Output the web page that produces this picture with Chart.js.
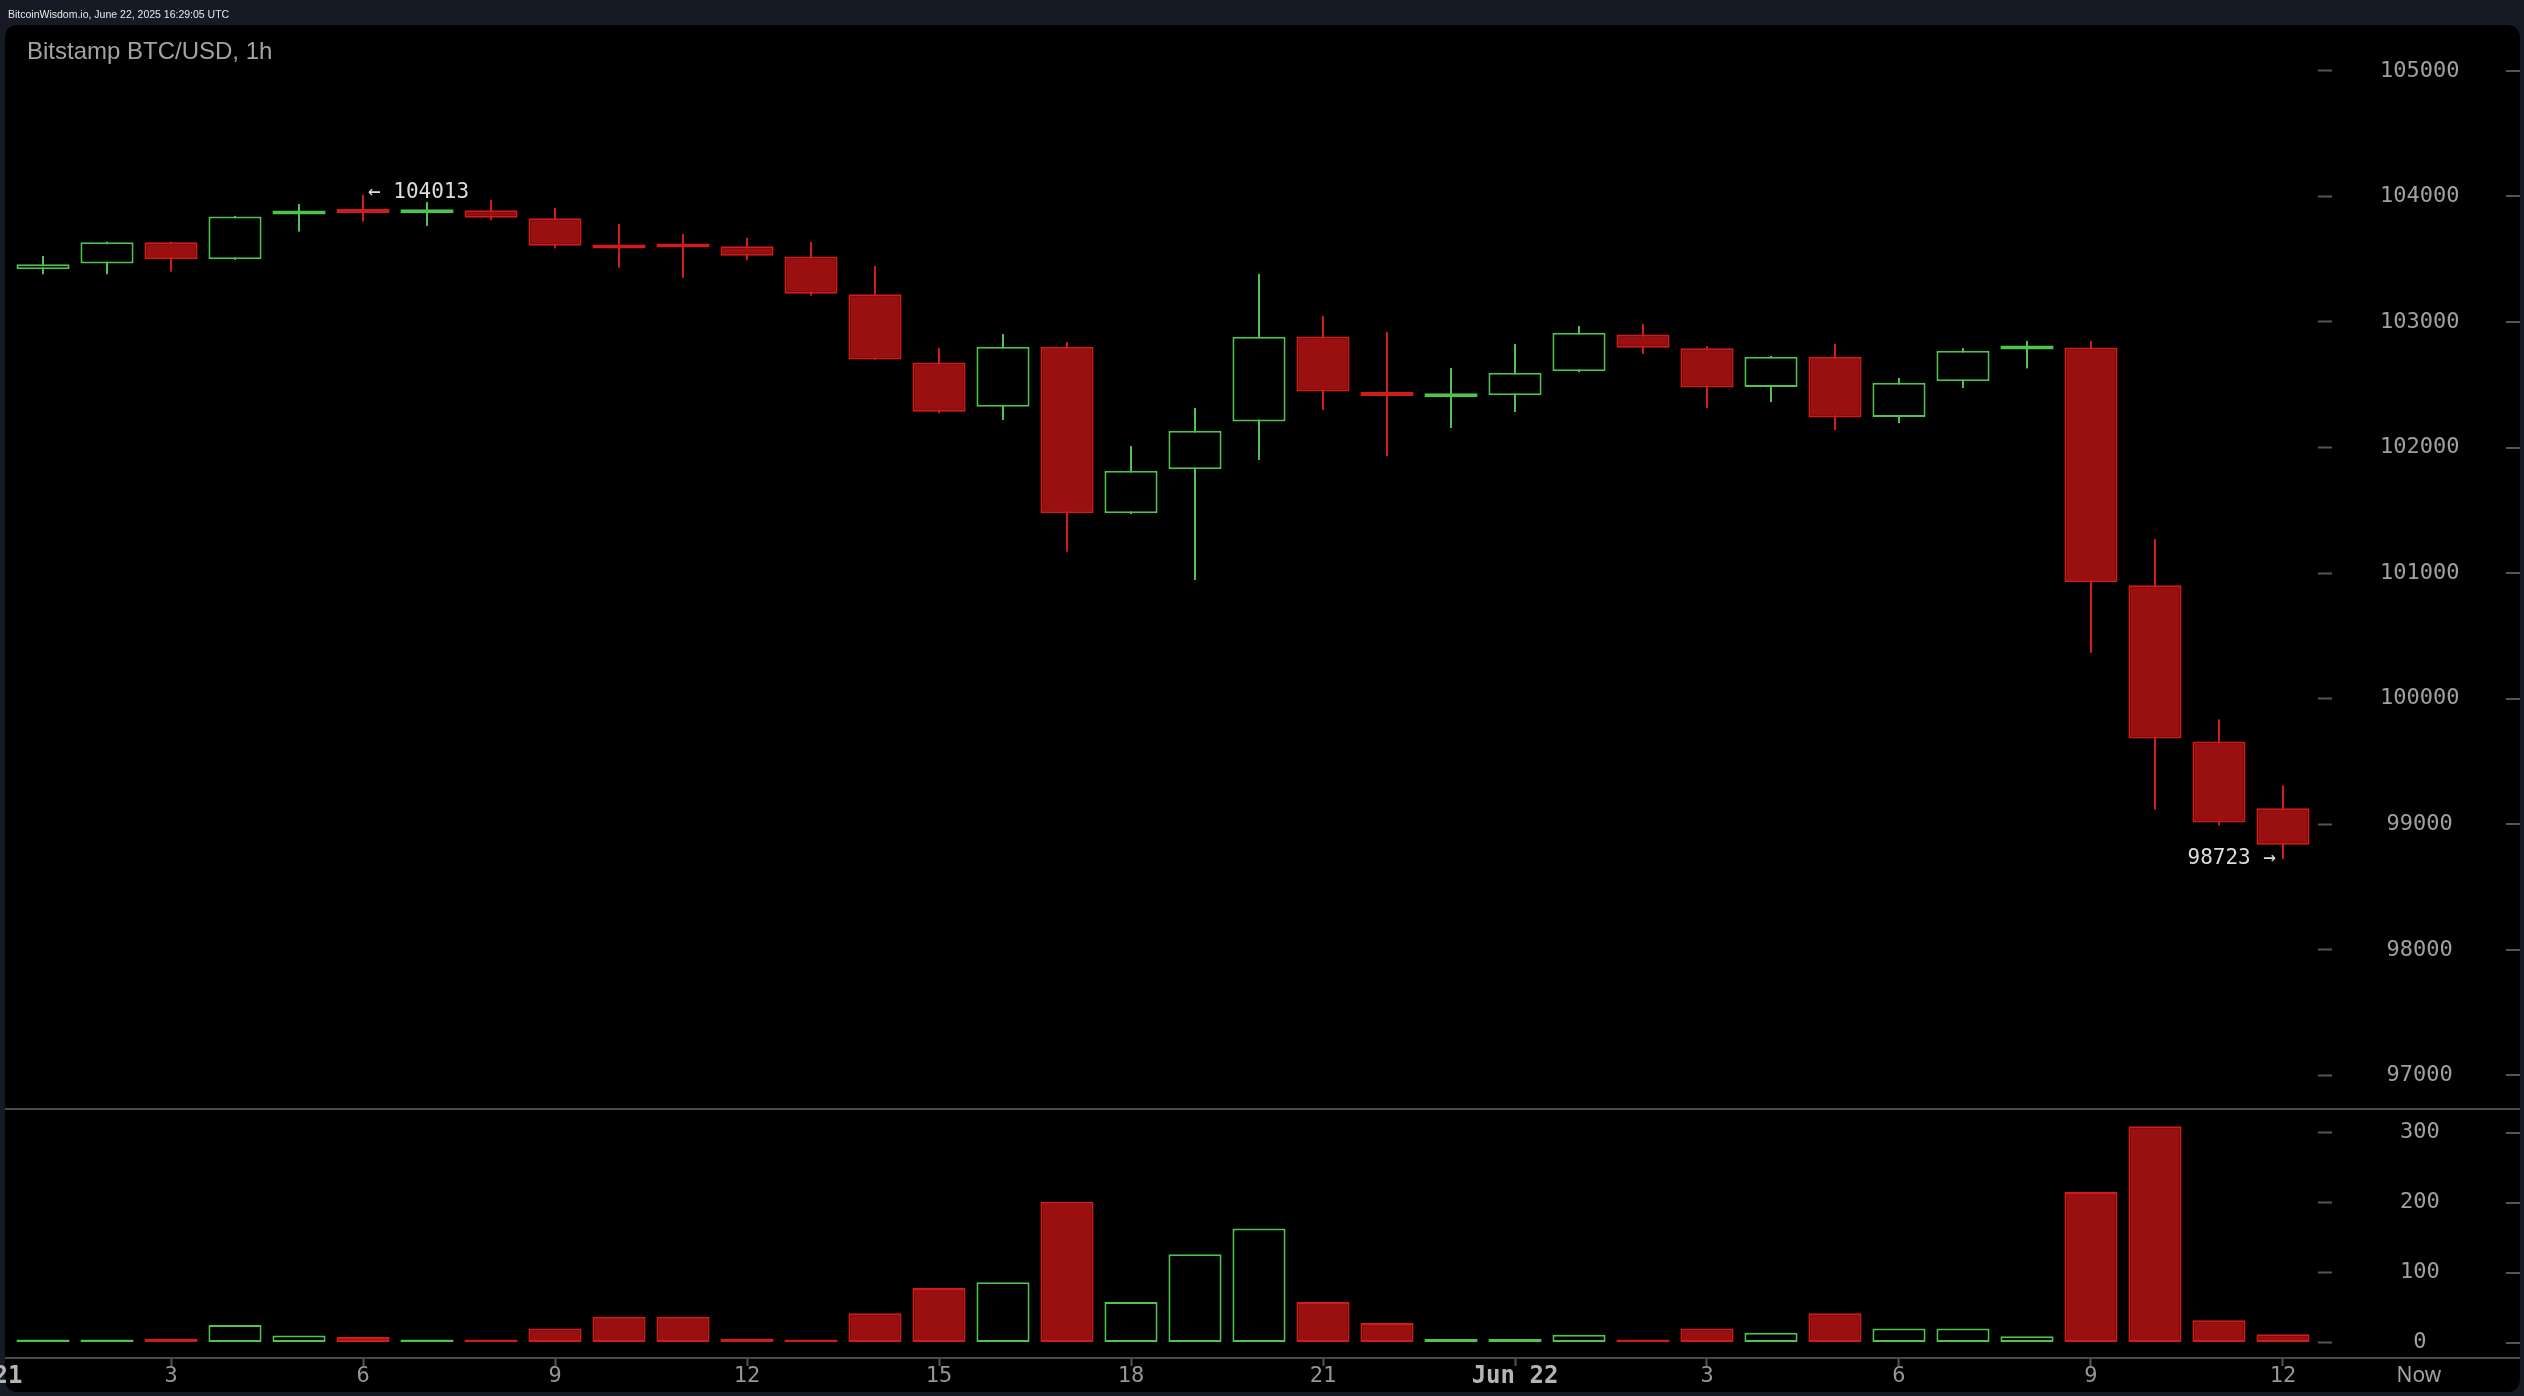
<!DOCTYPE html>
<html>
<head>
<meta charset="utf-8">
<title>Bitstamp BTC/USD, 1h</title>
<script src="https://cdn.jsdelivr.net/npm/chart.js@4.4.1/dist/chart.umd.min.js"></script>
<style>
    html, body { margin: 0; padding: 0; background: #151a24; }
    #wrap { position: relative; width: 2524px; height: 1396px; }
    #myChart { display: block; }
    #header { position: absolute; left: 8px; top: 8px; font: 10.5px "Liberation Sans", Arial, sans-serif; color: #e8e8e8; }
    #title { position: absolute; left: 27px; top: 39px; font: 24px "Liberation Sans", Arial, sans-serif; color: #a3a3a3; line-height: 1; }
</style>
</head>
<body>
<div id="wrap">
    <canvas id="myChart" width="2524" height="1396"></canvas>
    <div id="header">BitcoinWisdom.io, June 22, 2025 16:29:05 UTC</div>
    <div id="title">Bitstamp BTC/USD, 1h</div>
</div>
<script>
// --- Data (hours relative to Jun 22 00:00) ---
const hours = [-23, -22, -21, -20, -19, -18, -17, -16, -15, -14, -13, -12, -11, -10, -9, -8, -7, -6,
               -5, -4, -3, -2, -1, 0, 1, 2, 3, 4, 5, 6, 7, 8, 9, 10, 11, 12];
const opens = [103420, 103465, 103635, 103500, 103855, 103875, 103865, 103890, 103825, 103602, 103600, 103602,
               103522, 103220, 102678, 102325, 102803, 101476, 101826, 102208, 102885, 102430, 102400, 102416,
               102607, 102901, 102790, 102482, 102723, 102243, 102527, 102780, 102797, 100903, 99658, 99127];
const highs = [103525, 103640, 103640, 103845, 103940, 104013, 103955, 103970, 103907, 103780, 103700, 103671,
               103637, 103446, 102792, 102904, 102840, 102012, 102315, 103382, 103047, 102920, 102633, 102824,
               102968, 102984, 102808, 102730, 102824, 102554, 102792, 102849, 102849, 101272, 99835, 99310];
const lows = [103380, 103380, 103400, 103495, 103720, 103800, 103765, 103812, 103586, 103432, 103352, 103493,
              103209, 102700, 102272, 102219, 101170, 101470, 100945, 101901, 102299, 101932, 102155, 102283,
              102600, 102745, 102315, 102362, 102139, 102193, 102474, 102630, 100363, 99118, 98990, 98723];
const closes = [103460, 103635, 103500, 103840, 103870, 103868, 103888, 103830, 103607, 103585, 103594, 103528,
                103225, 102702, 102285, 102803, 101476, 101816, 102134, 102883, 102447, 102410, 102405, 102596,
                102915, 102795, 102479, 102723, 102240, 102516, 102771, 102795, 100927, 99682, 99014, 98837];
const volumes = [2, 2, 5, 25, 10, 8, 2, 2, 20, 37, 37, 5, 2, 42, 78, 86, 201, 58, 126, 163, 58, 28,
                 5, 5, 11, 2, 20, 14, 42, 20, 20, 9, 215, 309, 32, 12];

const tickHours = [-24, -21, -18, -15, -12, -9, -6, -3, 0, 3, 6, 9, 12];
const tickLabels = ['Jun 21', '3', '6', '9', '12', '15', '18', '21', 'Jun 22', '3', '6', '9', '12'];
const priceTicks = [97000, 98000, 99000, 100000, 101000, 102000, 103000, 104000, 105000];
const volumeTicks = [0, 100, 200, 300];

// --- Colours ---
const GREEN = '#4fc24f';
const RED_LINE = '#d21c1c';
const RED_FILL = '#9a0f10';
const AXIS_TEXT = '#a0a0a0';
const MONO = 'DejaVu Sans Mono';

const isUp = hours.map((h, i) => closes[i] >= opens[i]);
const lineColors = isUp.map(u => u ? GREEN : RED_LINE);
const fillColors = isUp.map(u => u ? '#000000' : RED_FILL);

const wickData = hours.map((h, i) => ({ x: h, y: [lows[i], highs[i]] }));
const bodyData = hours.map((h, i) => ({ x: h, y: [Math.min(opens[i], closes[i]), Math.max(opens[i], closes[i])] }));
const volumeData = hours.map((h, i) => ({ x: h, y: volumes[i] }));

// no extra room for edge labels
function noEdgePadding(scale) {
    scale.paddingLeft = 0;
    scale.paddingRight = 0;
    scale.paddingTop = 0;
    scale.paddingBottom = 0;
}

// panel, separators, right-hand dashes and price notes
const panelPlugin = {
    id: 'panelDecor',
    beforeDraw(chart) {
        const ctx = chart.ctx;
        ctx.save();
        ctx.fillStyle = '#000000';
        ctx.beginPath();
        ctx.roundRect(5, 25, 2515, 1367, 12);
        ctx.fill();
        ctx.restore();
    },
    afterDraw(chart) {
        const ctx = chart.ctx;
        const { x, y, yVol } = chart.scales;
        ctx.save();

        // separators across the whole panel
        ctx.strokeStyle = '#4a4a4a';
        ctx.lineWidth = 2;
        [yVol.top, x.top].forEach(py => {
            ctx.beginPath();
            ctx.moveTo(5, py);
            ctx.lineTo(2520, py);
            ctx.stroke();
        });

        // small dashes on the right edge
        ctx.strokeStyle = '#555555';
        [[y, priceTicks], [yVol, volumeTicks]].forEach(([scale, vals]) => {
            vals.forEach(v => {
                const py = Math.round(scale.getPixelForValue(v));
                ctx.beginPath();
                ctx.moveTo(scale.right - 14, py);
                ctx.lineTo(scale.right, py);
                ctx.stroke();
            });
        });

        // "Now" under the volume axis
        ctx.fillStyle = AXIS_TEXT;
        ctx.font = '21px "Noto Sans"';
        ctx.textAlign = 'center';
        ctx.textBaseline = 'middle';
        ctx.fillText('Now', (yVol.left + yVol.right) / 2, x.top + 18);

        // highest high / lowest low notes
        const iMax = highs.indexOf(Math.max(...highs));
        const iMin = lows.indexOf(Math.min(...lows));
        ctx.fillStyle = '#dcdcdc';
        ctx.font = '21px "' + MONO + '"';
        ctx.textAlign = 'left';
        ctx.fillText('\u2190 ' + highs[iMax], x.getPixelForValue(hours[iMax]) + 5, y.getPixelForValue(highs[iMax]) - 2);
        ctx.textAlign = 'right';
        ctx.fillText(lows[iMin] + ' \u2192', x.getPixelForValue(hours[iMin]) - 7, y.getPixelForValue(lows[iMin]));
        ctx.restore();
    }
};

const barStyle = {
    grouped: false,
    borderSkipped: false,
    barPercentage: 0.83,
    categoryPercentage: 1
};

const ctx = document.getElementById('myChart').getContext('2d');
const myChart = new Chart(ctx, {
    type: 'bar',
    data: {
        datasets: [
            { label: 'wick', data: wickData, yAxisID: 'y', order: 2, grouped: false,
              backgroundColor: lineColors, borderWidth: 0, maxBarThickness: 2 },
            Object.assign({ label: 'body', data: bodyData, yAxisID: 'y', order: 1,
              backgroundColor: fillColors, borderColor: lineColors, borderWidth: 2, minBarLength: 4 }, barStyle),
            Object.assign({ label: 'volume', data: volumeData, yAxisID: 'yVol', order: 1,
              backgroundColor: fillColors, borderColor: lineColors, borderWidth: 2, minBarLength: 3 }, barStyle)
        ]
    },
    options: {
        responsive: false,
        animation: false,
        layout: { padding: { left: 5, top: 25, right: 4, bottom: 5 } },
        plugins: {
            legend: { display: false },
            tooltip: { enabled: false }
        },
        scales: {
            x: {
                type: 'linear',
                min: -23.594,
                max: 12.547,
                offset: false,
                bounds: 'data',
                afterBuildTicks: s => { s.ticks = tickHours.map(v => ({ value: v })); },
                afterFit: s => { s.height = 33; noEdgePadding(s); },
                grid: { display: true, drawOnChartArea: false, offset: false, tickLength: 8, tickColor: '#555555', tickWidth: 2 },
                border: { display: false },
                ticks: {
                    autoSkip: false,
                    maxRotation: 0,
                    padding: -1,
                    callback: (v) => tickLabels[tickHours.indexOf(v)],
                    color: c => (c.tick && c.tick.value % 24 === 0) ? '#b4b4b4' : '#969696',
                    font: c => (c.tick && c.tick.value % 24 === 0)
                        ? { family: MONO, size: 24, weight: 'bold', lineHeight: 1 }
                        : { family: MONO, size: 22, lineHeight: 1 }
                }
            },
            y: {
                type: 'linear',
                position: 'right',
                stack: 'panes',
                stackWeight: 1084,
                min: 96732,
                max: 105365,
                bounds: 'data',
                afterBuildTicks: s => { s.ticks = priceTicks.map(v => ({ value: v })); },
                afterFit: s => { s.width = 202; noEdgePadding(s); },
                grid: { drawOnChartArea: false, tickLength: 14, tickColor: '#555555', tickWidth: 2 },
                border: { display: false },
                ticks: { autoSkip: false, crossAlign: 'center', padding: 48, color: AXIS_TEXT,
                         font: { family: MONO, size: 22 }, callback: v => String(v) }
            },
            yVol: {
                type: 'linear',
                position: 'right',
                stack: 'panes',
                stackWeight: 249,
                min: -22.1,
                max: 333.6,
                bounds: 'data',
                afterBuildTicks: s => { s.ticks = volumeTicks.map(v => ({ value: v })); },
                afterFit: s => { s.width = 202; noEdgePadding(s); },
                grid: { drawOnChartArea: false, tickLength: 14, tickColor: '#555555', tickWidth: 2 },
                border: { display: false },
                ticks: { autoSkip: false, crossAlign: 'center', padding: 68, color: AXIS_TEXT,
                         font: { family: MONO, size: 22 }, callback: v => String(v) }
            }
        }
    },
    plugins: [panelPlugin]
});
</script>
</body>
</html>
